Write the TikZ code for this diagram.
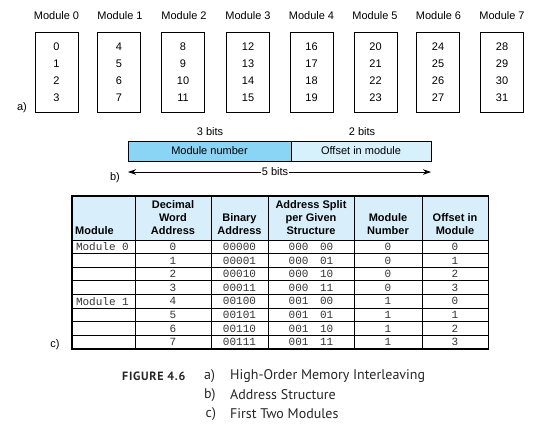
\documentclass[tikz,border=0pt]{standalone}
\usepackage{fontspec}
\setmainfont{Liberation Sans}
\setmonofont{Liberation Mono}
\newfontfamily\capfont{PT Sans}
\newfontfamily\figfont[LetterSpace=6]{PT Sans}
\usetikzlibrary{arrows.meta}
\definecolor{numblue}{RGB}{138,212,245}
\definecolor{offblue}{RGB}{214,240,252}
\definecolor{hdrblue}{RGB}{216,239,251}
\newcommand{\gap}{\hspace{1.05em}}
\newcommand{\onesp}{\hspace{0.6em}}

\begin{document}
\begin{tikzpicture}[x=1pt, y=-1pt, font=\fontsize{11}{13}\selectfont,
    modbox/.style={draw, line width=0.8pt, minimum width=43pt, minimum height=80pt, align=center, font=\fontsize{11}{17}\selectfont},
    field/.style={draw, line width=0.8pt, minimum height=20pt, inner sep=0pt},
    arr/.style={-{Stealth[length=8pt, width=5.5pt]}, line width=0.8pt},
    cell/.style={draw, line width=0.7pt, minimum height=13.6pt, inner sep=0pt, font=\ttfamily\fontsize{11}{13}\selectfont, text=black!80},
    ca/.style={cell, minimum width=63pt, text width=55pt, align=left},
    cb/.style={cell, minimum width=76pt},
    cc/.style={cell, minimum width=57pt},
    cd/.style={cell, minimum width=86pt},
    ce/.style={cell, minimum width=68pt},
    cf/.style={cell, minimum width=66pt},
    hcell/.style={draw, line width=0.7pt, fill=hdrblue, minimum height=44pt, inner sep=0pt},
    htext/.style={font=\bfseries\fontsize{11}{13}\selectfont, align=center, inner sep=0pt, anchor=south},
    caption/.style={font=\capfont\fontsize{14}{16}\selectfont, text=black!85, anchor=west, inner sep=0pt}]
  \useasboundingbox (0,0) rectangle (560,424);

  % a) high-order interleaving
  \node (lab0) at (56.5,16) {Module 0};
  \node (lab1) at (120,16) {Module 1};
  \node (lab2) at (184,16) {Module 2};
  \node (lab3) at (248,16) {Module 3};
  \node (lab4) at (311.5,16) {Module 4};
  \node (lab5) at (375,16) {Module 5};
  \node (lab6) at (438.5,16) {Module 6};
  \node (lab7) at (502,16) {Module 7};
  \node[modbox] (mod0) at (56.5,72) {0\\1\\2\\3};
  \node[modbox] (mod1) at (119,72) {4\\5\\6\\7};
  \node[modbox] (mod2) at (183,72) {8\\9\\10\\11};
  \node[modbox] (mod3) at (248,72) {12\\13\\14\\15};
  \node[modbox] (mod4) at (311.5,72) {16\\17\\18\\19};
  \node[modbox] (mod5) at (375.5,72) {20\\21\\22\\23};
  \node[modbox] (mod6) at (438,72) {24\\25\\26\\27};
  \node[modbox] (mod7) at (502,72) {28\\29\\30\\31};
  \node (parta) at (22,108) {a)};

  % b) address structure
  \node[field, fill=numblue, minimum width=163pt] (modnum) at (209.5,151) {Module number};
  \node[field, fill=offblue, minimum width=140pt] (offset) at (361,151) {Offset in module};
  \node (bits3) at (210,132) {3 bits};
  \node (bits2) at (362,132) {2 bits};
  \node[inner sep=1pt] (bits5) at (275,172) {5 bits};
  \coordinate (arrl) at (128,172);
  \coordinate (arrr) at (431,172);
  \draw[arr] (bits5) -- (arrl);
  \draw[arr] (bits5) -- (arrr);
  \node (partb) at (115,178) {b)};

  % c) first two modules
  \node[hcell, minimum width=63pt] (hmod) at (103.5,218) {};
  \node[hcell, minimum width=76pt] (hdec) at (173,218) {};
  \node[hcell, minimum width=57pt] (hbin) at (239.5,218) {};
  \node[hcell, minimum width=86pt] (hsplit) at (311,218) {};
  \node[hcell, minimum width=68pt] (hnum) at (388,218) {};
  \node[hcell, minimum width=66pt] (hoff) at (455,218) {};
  \node[htext, anchor=south west] (tmod) at (75,234.5) {Module};
  \node[htext] (tdec) at (173,234.5) {Decimal\\Word\\Address};
  \node[htext] (tbin) at (239.5,234.5) {Binary\\Address};
  \node[htext] (tsplit) at (311,234.5) {Address Split\\per Given\\Structure};
  \node[htext] (tnum) at (388,234.5) {Module\\Number};
  \node[htext] (toff) at (455,234.5) {Offset in\\Module};
  \node[ca] (r0a) at (103.5,246.8) {Module\onesp0}; \node[cb] (r0b) at (173,246.8) {0}; \node[cc] (r0c) at (239.5,246.8) {00000}; \node[cd] (r0d) at (311,246.8) {000\gap00}; \node[ce] (r0e) at (388,246.8) {0}; \node[cf] (r0f) at (455,246.8) {0};
  \node[ca] (r1a) at (103.5,260.4) {};         \node[cb] (r1b) at (173,260.4) {1}; \node[cc] (r1c) at (239.5,260.4) {00001}; \node[cd] (r1d) at (311,260.4) {000\gap01}; \node[ce] (r1e) at (388,260.4) {0}; \node[cf] (r1f) at (455,260.4) {1};
  \node[ca] (r2a) at (103.5,274.0) {};         \node[cb] (r2b) at (173,274.0) {2}; \node[cc] (r2c) at (239.5,274.0) {00010}; \node[cd] (r2d) at (311,274.0) {000\gap10}; \node[ce] (r2e) at (388,274.0) {0}; \node[cf] (r2f) at (455,274.0) {2};
  \node[ca] (r3a) at (103.5,287.6) {};         \node[cb] (r3b) at (173,287.6) {3}; \node[cc] (r3c) at (239.5,287.6) {00011}; \node[cd] (r3d) at (311,287.6) {000\gap11}; \node[ce] (r3e) at (388,287.6) {0}; \node[cf] (r3f) at (455,287.6) {3};
  \node[ca] (r4a) at (103.5,301.2) {Module\onesp1}; \node[cb] (r4b) at (173,301.2) {4}; \node[cc] (r4c) at (239.5,301.2) {00100}; \node[cd] (r4d) at (311,301.2) {001\gap00}; \node[ce] (r4e) at (388,301.2) {1}; \node[cf] (r4f) at (455,301.2) {0};
  \node[ca] (r5a) at (103.5,314.8) {};         \node[cb] (r5b) at (173,314.8) {5}; \node[cc] (r5c) at (239.5,314.8) {00101}; \node[cd] (r5d) at (311,314.8) {001\gap01}; \node[ce] (r5e) at (388,314.8) {1}; \node[cf] (r5f) at (455,314.8) {1};
  \node[ca] (r6a) at (103.5,328.4) {};         \node[cb] (r6b) at (173,328.4) {6}; \node[cc] (r6c) at (239.5,328.4) {00110}; \node[cd] (r6d) at (311,328.4) {001\gap10}; \node[ce] (r6e) at (388,328.4) {1}; \node[cf] (r6f) at (455,328.4) {2};
  \node[ca] (r7a) at (103.5,342.0) {};         \node[cb] (r7b) at (173,342.0) {7}; \node[cc] (r7c) at (239.5,342.0) {00111}; \node[cd] (r7d) at (311,342.0) {001\gap11}; \node[ce] (r7e) at (388,342.0) {1}; \node[cf] (r7f) at (455,342.0) {3};
  \draw[line width=1pt] (hmod.north west) rectangle (r7f.south east);
  \node (partc) at (55,345) {c)};

  % caption
  \node[caption, font=\figfont\bfseries\fontsize{12}{14}\selectfont] (fig) at (122,376) {FIGURE 4.6};
  \node[caption] (capa) at (204,376) {a)};
  \node[caption] (capb) at (204,395) {b)};
  \node[caption] (capc) at (205.5,414) {c)};
  \node[caption] (texta) at (230,376) {High-Order Memory Interleaving};
  \node[caption] (textb) at (230,395) {Address Structure};
  \node[caption] (textc) at (230,414) {First Two Modules};
\end{tikzpicture}
\end{document}
